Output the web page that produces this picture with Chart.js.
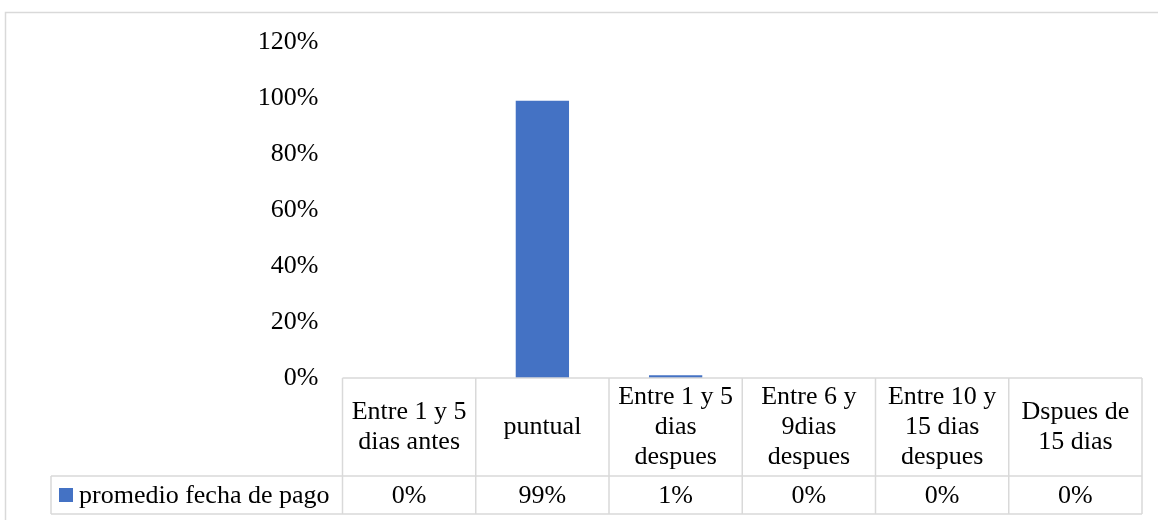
<!DOCTYPE html>
<html><head><meta charset="utf-8">
<script src="https://cdn.jsdelivr.net/npm/chart.js@4/dist/chart.umd.min.js"></script>
<style>html,body{margin:0;padding:0;background:#fff}canvas{display:block}</style>
</head><body>
<canvas id="c" width="1158" height="520"></canvas>
<script>
const categories = [
  ["Entre 1 y 5", "dias antes"],
  ["puntual"],
  ["Entre 1 y 5", "dias", "despues"],
  ["Entre 6 y", "9dias", "despues"],
  ["Entre 10 y", "15 dias", "despues"],
  ["Dspues de", "15 dias"]
];
const seriesName = "promedio fecha de pago";
const values = [0, 0.99, 0.01, 0, 0, 0];
const yMin = 0, yMax = 1.2, yStep = 0.2;

const FONT_FAMILY = '"Liberation Serif", "Times New Roman", serif';
const FONT_SIZE = 26;
const BAR_COLOR = '#4472C4';
const LINE_COLOR = '#d9d9d9';

const pct = v => Math.round(v * 100) + '%';

const tablePlugin = {
  id: 'dataTable',
  beforeDraw(chart) {
    const ctx = chart.ctx;
    ctx.save();
    ctx.fillStyle = '#fff';
    ctx.fillRect(0, 0, chart.width, chart.height);
    ctx.strokeStyle = LINE_COLOR;
    ctx.lineWidth = 1.5;
    ctx.strokeRect(5.5, 12.5, chart.width + 20, chart.height + 20);
    ctx.restore();
  },
  afterDraw(chart) {
    const ctx = chart.ctx;
    const xs = chart.scales.x;
    const area = chart.chartArea;
    const n = categories.length;
    const w = (xs.right - xs.left) / n;
    const top = area.bottom;
    const headH = 98;
    const rowH = 38;
    const mid = top + headH;
    const bot = mid + rowH;
    const legLeft = 51;
    ctx.save();
    ctx.strokeStyle = LINE_COLOR;
    ctx.lineWidth = 1.5;
    ctx.beginPath();
    // horizontal lines
    ctx.moveTo(xs.left, top); ctx.lineTo(xs.right, top);
    ctx.moveTo(legLeft, mid); ctx.lineTo(xs.right, mid);
    ctx.moveTo(legLeft, bot); ctx.lineTo(xs.right, bot);
    // vertical lines
    for (let i = 0; i <= n; i++) {
      const x = xs.left + i * w;
      ctx.moveTo(x, top); ctx.lineTo(x, bot);
    }
    ctx.moveTo(legLeft, mid); ctx.lineTo(legLeft, bot);
    ctx.stroke();

    ctx.fillStyle = '#000';
    ctx.font = FONT_SIZE + 'px ' + FONT_FAMILY;
    ctx.textAlign = 'center';
    ctx.textBaseline = 'middle';
    const lh = 30;
    categories.forEach((lines, i) => {
      const cx = xs.getPixelForValue(i);
      const cy = top + headH / 2;
      const start = cy - (lines.length - 1) * lh / 2;
      lines.forEach((t, j) => ctx.fillText(t, cx, start + j * lh));
      ctx.fillText(pct(values[i]), cx, mid + rowH / 2 + 1);
    });
    // legend
    ctx.fillStyle = BAR_COLOR;
    ctx.fillRect(59, mid + rowH / 2 - 7, 14, 14);
    ctx.fillStyle = '#000';
    ctx.textAlign = 'left';
    ctx.fillText(seriesName, 79, mid + rowH / 2 + 1);
    ctx.restore();
  }
};

new Chart(document.getElementById('c'), {
  type: 'bar',
  data: {
    labels: categories,
    datasets: [{
      label: seriesName,
      data: values,
      backgroundColor: BAR_COLOR,
      borderWidth: 0,
      barPercentage: 0.4,
      categoryPercentage: 1.0
    }]
  },
  options: {
    responsive: false,
    devicePixelRatio: 1,
    animation: false,
    layout: { padding: { left: 0, right: 16, top: 42, bottom: 142 } },
    plugins: { legend: { display: false }, tooltip: { enabled: false } },
    scales: {
      x: { display: false },
      y: {
        min: yMin, max: yMax,
        grid: { display: false, drawTicks: false },
        border: { display: false },
        ticks: {
          stepSize: yStep,
          padding: 24,
          color: '#000',
          font: { family: FONT_FAMILY, size: FONT_SIZE },
          callback: v => pct(v)
        },
        afterFit(scale) { scale.width = 342.5; }
      }
    }
  },
  plugins: [tablePlugin]
});
</script>
</body></html>
